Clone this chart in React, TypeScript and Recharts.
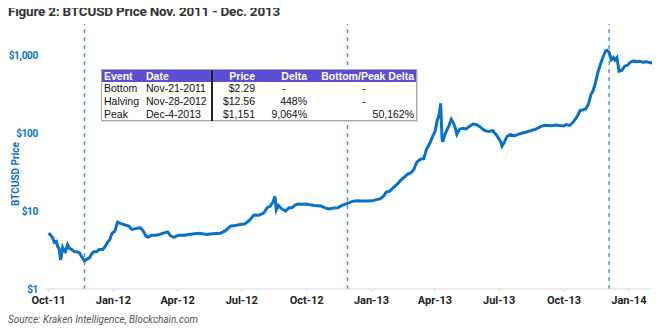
import React from "react";
import {
  LineChart,
  Line,
  XAxis,
  YAxis,
  ReferenceLine,
} from "recharts";

const dates = [
  "2011-10-01", "2011-10-04", "2011-10-07", "2011-10-09", "2011-10-12", "2011-10-14",
  "2011-10-16", "2011-10-18", "2011-10-19", "2011-10-21", "2011-10-23", "2011-10-25",
  "2011-10-28", "2011-10-31", "2011-11-03", "2011-11-07", "2011-11-10", "2011-11-14",
  "2011-11-17", "2011-11-21", "2011-11-24", "2011-11-28", "2011-12-01", "2011-12-04",
  "2011-12-08", "2011-12-12", "2011-12-17", "2011-12-21", "2011-12-24", "2011-12-27",
  "2011-12-30", "2012-01-03", "2012-01-07", "2012-01-10", "2012-01-14", "2012-01-18",
  "2012-01-23", "2012-01-27", "2012-01-31", "2012-02-04", "2012-02-08", "2012-02-12",
  "2012-02-16", "2012-02-19", "2012-02-24", "2012-03-01", "2012-03-06", "2012-03-12",
  "2012-03-18", "2012-03-22", "2012-03-27", "2012-04-02", "2012-04-10", "2012-04-17",
  "2012-04-25", "2012-05-03", "2012-05-12", "2012-05-20", "2012-06-01", "2012-06-08",
  "2012-06-15", "2012-06-22", "2012-06-28", "2012-07-05", "2012-07-12", "2012-07-18",
  "2012-07-25", "2012-08-01", "2012-08-06", "2012-08-10", "2012-08-14", "2012-08-17",
  "2012-08-19", "2012-08-22", "2012-08-26", "2012-09-01", "2012-09-06", "2012-09-10",
  "2012-09-15", "2012-09-20", "2012-09-25", "2012-09-30", "2012-10-06", "2012-10-12",
  "2012-10-21", "2012-10-28", "2012-11-02", "2012-11-08", "2012-11-14", "2012-11-20",
  "2012-11-28", "2012-12-05", "2012-12-12", "2012-12-19", "2012-12-26", "2013-01-02",
  "2013-01-08", "2013-01-13", "2013-01-18", "2013-01-22", "2013-01-27", "2013-02-01",
  "2013-02-06", "2013-02-11", "2013-02-16", "2013-02-21", "2013-02-26", "2013-03-02",
  "2013-03-06", "2013-03-11", "2013-03-16", "2013-03-20", "2013-03-25", "2013-03-29",
  "2013-04-01", "2013-04-04", "2013-04-07", "2013-04-09", "2013-04-11", "2013-04-12",
  "2013-04-15", "2013-04-18", "2013-04-21", "2013-04-24", "2013-04-27", "2013-04-30",
  "2013-05-02", "2013-05-06", "2013-05-10", "2013-05-15", "2013-05-20", "2013-05-25",
  "2013-05-30", "2013-06-04", "2013-06-10", "2013-06-16", "2013-06-22", "2013-06-28",
  "2013-07-03", "2013-07-05", "2013-07-08", "2013-07-12", "2013-07-17", "2013-07-22",
  "2013-07-28", "2013-08-03", "2013-08-10", "2013-08-16", "2013-08-22", "2013-08-28",
  "2013-09-03", "2013-09-08", "2013-09-13", "2013-09-19", "2013-09-24", "2013-09-30",
  "2013-10-04", "2013-10-09", "2013-10-14", "2013-10-19", "2013-10-24", "2013-10-28",
  "2013-11-01", "2013-11-05", "2013-11-08", "2013-11-11", "2013-11-14", "2013-11-18",
  "2013-11-22", "2013-11-26", "2013-11-29", "2013-12-01", "2013-12-04", "2013-12-07",
  "2013-12-10", "2013-12-12", "2013-12-15", "2013-12-18", "2013-12-22", "2013-12-26",
  "2013-12-30", "2014-01-03", "2014-01-08", "2014-01-12", "2014-01-16", "2014-01-21",
  "2014-01-26", "2014-01-31", "2014-02-04",
];

const prices = [
  5.2, 4.9, 4.5, 4.0, 4.1, 3.5,
  3.3, 2.35, 2.6, 3.4, 3.1, 3.0,
  3.7, 3.3, 3.2, 3.0, 3.0, 2.9,
  2.6, 2.29, 2.4, 2.5, 2.8, 3.0,
  3.0, 3.2, 3.2, 3.6, 4.0, 4.3,
  5.2, 5.5, 7.2, 7.0, 6.8, 6.6,
  6.4, 5.8, 5.9, 6.0, 6.1, 5.6,
  4.8, 4.6, 4.9, 4.9, 5.0, 5.2,
  5.4, 4.8, 4.6, 4.9, 4.9, 5.0,
  5.1, 5.2, 5.0, 5.1, 5.2, 5.6,
  6.4, 6.5, 6.7, 6.8, 7.6, 8.9,
  8.8, 9.4, 11.0, 11.5, 12.8, 15.4,
  10.3, 11.8, 10.8, 10.0, 11.0, 11.0,
  12.0, 12.3, 12.2, 12.3, 12.0, 11.8,
  11.6, 10.9, 10.6, 10.9, 11.0, 11.8,
  12.56, 13.3, 13.5, 13.4, 13.4, 13.5,
  14.0, 14.3, 15.5, 17.5, 18.0, 20.0,
  22.0, 24.5, 27.0, 29.5, 31.0, 34.0,
  42.0, 46.0, 47.0, 62.0, 75.0, 92.0,
  104, 142, 175, 240, 85, 77,
  95, 110, 125, 150, 135, 115,
  96, 112, 115, 113, 122, 130,
  128, 120, 108, 105, 107, 92,
  78, 68, 75, 90, 96, 92,
  96, 100, 104, 108, 112, 120,
  126, 125, 124, 127, 125, 123,
  128, 125, 138, 160, 195, 198,
  205, 240, 310, 345, 420, 600,
  780, 980, 1130, 1151, 1080, 870,
  930, 860, 930, 620, 640, 720,
  740, 810, 840, 820, 830, 810,
  820, 800, 790,
];

const tickDates = [
  "2011-10-01", "2012-01-01", "2012-04-01", "2012-07-01", "2012-10-01",
  "2013-01-01", "2013-04-01", "2013-07-01", "2013-10-01", "2014-01-01",
];
const tickLabels = [
  "Oct-11", "Jan-12", "Apr-12", "Jul-12", "Oct-12",
  "Jan-13", "Apr-13", "Jul-13", "Oct-13", "Jan-14",
];
const yTicks = [1, 10, 100, 1000];

const eventNames = ["Bottom", "Halving", "Peak"];
const eventDates = ["2011-11-21", "2012-11-28", "2013-12-04"];
const eventDateLabels = ["Nov-21-2011", "Nov-28-2012", "Dec-4-2013"];
const eventPrices = ["$2.29", "$12.56", "$1,151"];
const eventDeltas = ["-", "448%", "9,064%"];
const eventBottomPeak = ["-", "-", "50,162%"];
const tableHeaders = ["Event", "Date", "Price", "Delta", "Bottom/Peak Delta"];

const ts = (d: string) => Date.parse(d + "T00:00:00Z");

const data = dates.map((d, i) => ({ t: ts(d), price: prices[i] }));
const tickTimes = tickDates.map(ts);
const labelByTime: Record<number, string> = {};
tickTimes.forEach((t, i) => (labelByTime[t] = tickLabels[i]));

const BLUE = "#0a72c6";
const font = "Roboto, 'Liberation Sans', Arial, sans-serif";
const tableFont = "'Liberation Sans', Arial, sans-serif";

function EventTable() {
  const cell = (right: boolean, x: number): React.CSSProperties => ({
    position: "absolute",
    top: 0,
    ...(right ? { right: 316 - x } : { left: x }),
    whiteSpace: "nowrap",
  });
  const cols = [2, 44, 155, 207, 314];
  const dashCols = [0, 0, 0, 186, 266];
  const rows = eventNames.map((n, i) => [
    n,
    eventDateLabels[i],
    eventPrices[i],
    eventDeltas[i],
    eventBottomPeak[i],
  ]);
  return (
    <div
      style={{
        position: "absolute",
        left: 101,
        top: 69,
        width: 316,
        height: 52,
        border: "1px solid #a9a9a9",
        boxShadow: "1px 1px 1px rgba(0,0,0,0.15)",
        background: "#fff",
        fontFamily: tableFont,
        fontSize: 10.5,
        lineHeight: "12px",
        boxSizing: "border-box",
      }}
    >
      <div
        style={{
          position: "relative",
          height: 12,
          background: "#5b4fd3",
          color: "#fff",
          fontWeight: "bold",
        }}
      >
        {tableHeaders.map((h, j) => (
          <span key={h} style={cell(j >= 2, cols[j])}>
            {h}
          </span>
        ))}
      </div>
      {rows.map((r, i) => (
        <div key={i} style={{ position: "relative", height: 13, lineHeight: "13px", color: "#111" }}>
          {r.map((v, j) => (
            <span key={j} style={cell(j >= 2, v === "-" ? dashCols[j] : cols[j])}>
              {v}
            </span>
          ))}
        </div>
      ))}
      <div
        style={{
          position: "absolute",
          left: 109,
          top: 0,
          width: 1.5,
          height: 51,
          background: "#222",
        }}
      />
    </div>
  );
}

export default function App() {
  return (
    <div
      style={{
        position: "relative",
        width: 660,
        height: 334,
        margin: "-8px 0 0 -8px",
        background: "#fff",
        overflow: "hidden",
      }}
    >
      <div
        style={{
          position: "absolute",
          left: 8,
          top: 3,
          fontFamily: font,
          fontWeight: "bold",
          fontSize: 13.5,
          color: "#333",
          whiteSpace: "nowrap",
          letterSpacing: -0.2,
        }}
      >
        Figure 2: BTCUSD Price Nov. 2011 - Dec. 2013
      </div>

      <LineChart
        width={660}
        height={334}
        data={data}
        margin={{ top: 24, right: 5, left: 8, bottom: 25 }}
        style={{ position: "absolute", left: 0, top: 0 }}
      >
        <XAxis
          dataKey="t"
          type="number"
          scale="time"
          domain={[ts("2011-09-26"), ts("2014-02-07")]}
          ticks={tickTimes}
          tickFormatter={(v: number) => labelByTime[v] ?? ""}
          height={20}
          axisLine={{ stroke: "#d9d9d9" }}
          tickLine={{ stroke: "#d9d9d9" }}
          tickSize={3}
          tickMargin={4}
          tick={{ fill: "#222", fontSize: 11, fontWeight: "bold", fontFamily: font }}
          interval={0}
          allowDataOverflow
        />
        <YAxis
          type="number"
          scale="log"
          domain={[1, 2500]}
          ticks={yTicks}
          allowDataOverflow
          width={37}
          axisLine={false}
          tickLine={false}
          tickSize={0}
          tickMargin={7}
          tickFormatter={(v: number) => "$" + v.toLocaleString("en-US")}
          tick={{ fill: BLUE, fontSize: 10, fontWeight: "bold", fontFamily: font, letterSpacing: -0.3 }}
          interval={0}
        />
        {eventDates.map((d) => (
          <ReferenceLine
            key={d}
            x={ts(d)}
            stroke="#5b8ee0"
            strokeWidth={1.5}
            strokeDasharray="4 4"
          />
        ))}
        <Line
          type="linear"
          dataKey="price"
          stroke={BLUE}
          strokeWidth={3}
          dot={false}
          isAnimationActive={false}
        />
      </LineChart>

      <div
        style={{
          position: "absolute",
          left: 15,
          top: 174,
          transform: "translate(-50%, -50%) rotate(-90deg)",
          fontFamily: font,
          fontWeight: "bold",
          fontSize: 10,
          color: BLUE,
          whiteSpace: "nowrap",
        }}
      >
        BTCUSD Price
      </div>

      <EventTable />

      <div
        style={{
          position: "absolute",
          left: 8,
          top: 314,
          fontFamily: font,
          fontStyle: "italic",
          fontSize: 10,
          color: "#555",
          whiteSpace: "nowrap",
        }}
      >
        Source: Kraken Intelligence, Blockchain.com
      </div>
    </div>
  );
}
